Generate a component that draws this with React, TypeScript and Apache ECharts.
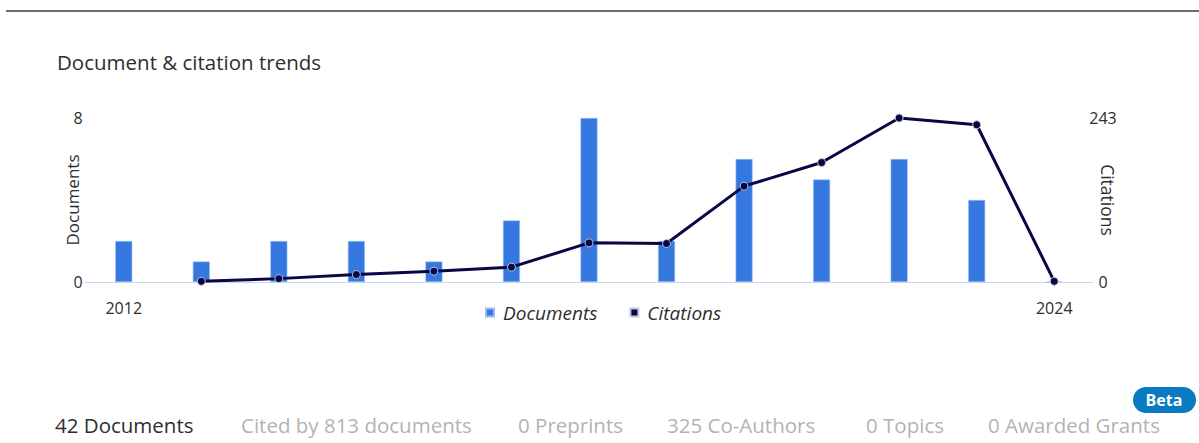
import React, { useEffect, useRef } from "react";
import * as echarts from "echarts";

const years = ["2012", "2013", "2014", "2015", "2016", "2017", "2018", "2019", "2020", "2021", "2022", "2023", "2024"];
const documents = [2, 1, 2, 2, 1, 3, 8, 2, 6, 5, 6, 4, 0];
const citations: (number | null)[] = [null, 1, 5, 11, 16, 22, 58, 57, 142, 177, 243, 233, 1];
const docAxisMax = 8;
const citAxisMax = 243;
const tabs = [
  { text: "42 Documents", x: 55, active: true },
  { text: "Cited by 813 documents", x: 241, active: false },
  { text: "0 Preprints", x: 518, active: false },
  { text: "325 Co-Authors", x: 667, active: false },
  { text: "0 Topics", x: 866, active: false },
  { text: "0 Awarded Grants", x: 988, active: false },
];

const FONT = "Open Sans";

export default function App() {
  const ref = useRef<HTMLDivElement>(null);
  useEffect(() => {
    if (!ref.current) return;
    const chart = echarts.init(ref.current, null, { renderer: "svg" });
    const option: any = {
      animation: false,
      backgroundColor: "#ffffff",
      textStyle: { fontFamily: FONT },
      grid: { left: 85, right: 106, top: 118, bottom: 161 },
      legend: {
        left: 480,
        top: 298,
        icon: "rect",
        itemWidth: 8,
        itemHeight: 8,
        itemGap: 32,
        textStyle: { fontFamily: FONT, fontSize: 19, fontStyle: "italic", color: "#2e2e2e", padding: [0, 0, 0, 4] },
        data: [
          { name: "Documents", itemStyle: { color: "#3578e0" } },
          { name: "Citations", itemStyle: { color: "#070845" } },
        ],
      },
      xAxis: {
        type: "category",
        data: years,
        offset: 6,
        axisLine: { lineStyle: { color: "#c9d8f2", width: 1 } },
        axisTick: { show: false },
        axisLabel: {
          interval: (i: number) => i === 0 || i === years.length - 1,
          margin: 12,
          fontFamily: FONT,
          fontSize: 16,
          color: "#2e2e2e",
        },
      },
      yAxis: [
        {
          type: "value",
          min: 0,
          max: docAxisMax,
          interval: docAxisMax,
          name: "Documents",
          nameLocation: "middle",
          nameRotate: 90,
          nameGap: 4,
          nameMoveOverlap: false,
          nameTextStyle: { fontFamily: FONT, fontSize: 17, color: "#2e2e2e" },
          axisLine: { show: false },
          axisTick: { show: false },
          splitLine: { show: false },
          axisLabel: { align: "center", margin: 7, fontFamily: FONT, fontSize: 16, color: "#2e2e2e" },
        },
        {
          type: "value",
          min: 0,
          max: citAxisMax,
          interval: citAxisMax,
          name: "Citations",
          nameLocation: "middle",
          nameRotate: -90,
          nameGap: 6,
          nameMoveOverlap: false,
          nameTextStyle: { fontFamily: FONT, fontSize: 17.5, color: "#2e2e2e" },
          axisLine: { show: false },
          axisTick: { show: false },
          splitLine: { show: false },
          axisLabel: { align: "center", margin: 10, fontFamily: FONT, fontSize: 16, color: "#2e2e2e" },
        },
      ],
      series: [
        {
          name: "Documents",
          type: "bar",
          data: documents,
          barWidth: 17,
          yAxisIndex: 0,
          itemStyle: { color: "#3578e0", borderColor: "#9dbdf0", borderWidth: 0.6 },
        },
        {
          name: "Citations",
          type: "line",
          data: citations,
          yAxisIndex: 1,
          symbol: "circle",
          symbolSize: 8,
          showSymbol: true,
          lineStyle: { color: "#070845", width: 3 },
          itemStyle: { color: "#070845", borderColor: "#c4c6d8", borderWidth: 1 },
        },
      ],
      graphic: [
        { type: "rect", shape: { x: 6, y: 10, width: 1193, height: 2 }, style: { fill: "#6f6f6f" } },
        {
          type: "text",
          x: 57,
          y: 62,
          style: { text: "Document & citation trends", fontFamily: FONT, fontSize: 20.5, fill: "#2e2e2e", verticalAlign: "middle" },
        },
        ...tabs.map((t) => ({
          type: "text",
          x: t.x,
          y: 425,
          style: {
            text: t.text,
            fontFamily: FONT,
            fontSize: 20.5,
            fill: t.active ? "#2e2e2e" : "#b3b3b3",
            verticalAlign: "middle",
          },
        })),
        { type: "rect", shape: { x: 1133, y: 387, width: 63, height: 26, r: 13 }, style: { fill: "#0a7bc2" } },
        {
          type: "text",
          x: 1164,
          y: 400,
          style: { text: "Beta", fontFamily: FONT, fontSize: 16, fontWeight: "bold", fill: "#ffffff", align: "center", verticalAlign: "middle" },
        },
      ],
    };
    chart.setOption(option);
    return () => chart.dispose();
  }, []);
  return <div ref={ref} style={{ position: "absolute", left: 0, top: 0, width: 1199, height: 443 }} />;
}
